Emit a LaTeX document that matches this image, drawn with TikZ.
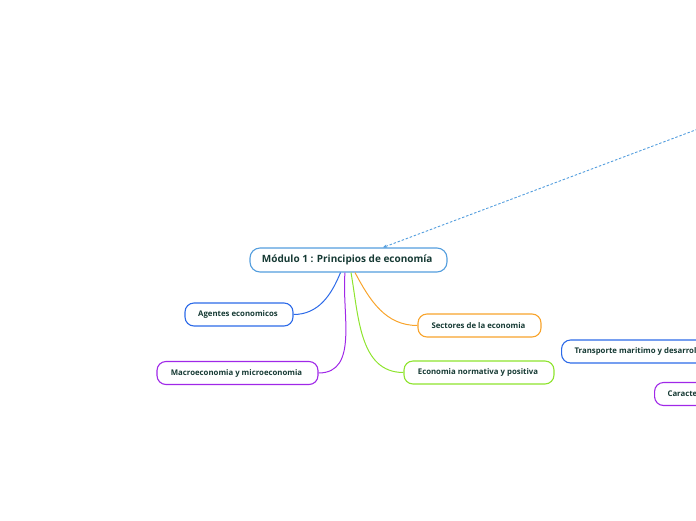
\documentclass[tikz,border=0pt]{standalone}
\usepackage{fontspec}
\setmainfont{Open Sans}
\usetikzlibrary{arrows.meta}

\definecolor{textgreen}{RGB}{22,58,52}
\definecolor{mainblue}{RGB}{84,158,222}
\definecolor{topicblue}{RGB}{44,106,232}
\definecolor{topicpurple}{RGB}{160,40,232}
\definecolor{topicorange}{RGB}{248,164,44}
\definecolor{topicgreen}{RGB}{142,228,46}

\begin{document}
\begin{tikzpicture}[
    x=1pt, y=-1pt,
    every node/.style={
        font=\bfseries\fontsize{7.8}{9}\selectfont,
        text=textgreen,
        align=center,
        inner sep=0pt
    },
    central/.style={
        draw=mainblue,
        line width=1.1pt,
        rounded corners=10pt,
        fill=white,
        minimum width=197pt,
        minimum height=24pt,
        font=\bfseries\fontsize{10}{12}\selectfont
    },
    topic/.style={
        draw=#1,
        line width=1.1pt,
        rounded corners=9pt,
        fill=white,
        minimum height=23pt
    },
    branch/.style={
        line width=1pt,
        #1
    },
    link/.style={
        -{Stealth[length=4pt,width=3.5pt]},
        dashed,
        dash pattern=on 2.5pt off 1.8pt,
        line width=0.9pt,
        mainblue
    }
]

\useasboundingbox (0,0) rectangle (696,520);
\clip (0,0) rectangle (696,520);

\node[central] (main) at (348.5,260) {
    Módulo 1 : Principios de economía
};

\node[topic=topicblue, minimum width=108pt] (agentes) at (239,314.5) {
    Agentes economicos
};

\node[topic=topicpurple, minimum width=161pt] (macro) at (237.5,373) {
    Macroeconomia y microeconomia
};

\node[topic=topicorange, minimum width=123pt] (sectores) at (479.5,325.5) {
    Sectores de la economia
};

\node[topic=topicgreen, minimum width=150pt] (normativa) at (479,372.5) {
    Economia normativa y positiva
};

\node[topic=topicblue, inner xsep=13pt, anchor=west] (transporte) at (561,351.5) {
    Transporte maritimo y desarrollo
};

\node[topic=topicpurple, inner xsep=13pt, anchor=west] (caract) at (654,394) {
    Caracteristicas
};

\coordinate (source) at (730,117);

\draw[branch=topicblue]
    ([xshift=-8pt]main.south)
    to[out=-112,in=0]
    (agentes.east);

\draw[branch=topicpurple]
    ([xshift=-3.5pt]main.south)
    to[out=-95,in=0]
    (macro.east);

\draw[branch=topicgreen]
    ([xshift=2.5pt]main.south)
    to[out=-80,in=180]
    (normativa.west);

\draw[branch=topicorange]
    ([xshift=6.5pt]main.south)
    to[out=-62,in=180]
    (sectores.west);

\draw[link]
    (source)
    --
    ([xshift=34.5pt]main.north);

\end{tikzpicture}
\end{document}
